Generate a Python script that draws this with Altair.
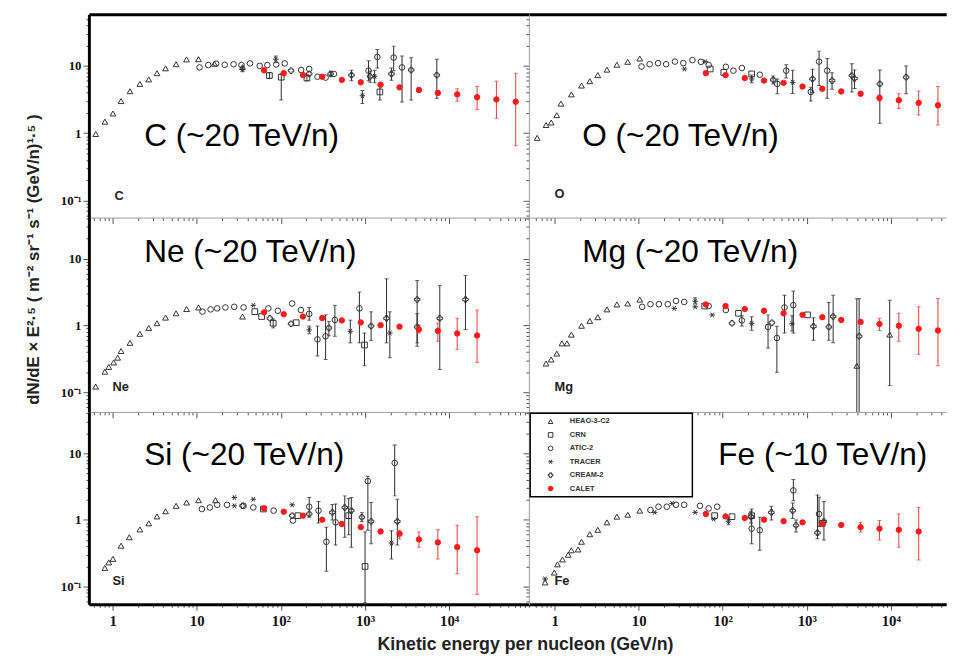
import altair as alt
import pandas as pd

# ---------------- data ----------------
SERIES = ["HEAO-3-C2", "CRN", "ATIC-2", "TRACER", "CREAM-2", "CALET"]

CALET_E = [63, 108, 183, 310, 530, 890, 1530, 2570, 4370, 7330, 12450, 21450, 36400, 61700]

# (E, value[, err_low, err_high])
C_HEAO = [(0.63, 0.97), (0.81, 1.48), (1.01, 1.96), (1.26, 3.0), (1.61, 4.2), (2.11, 5.4), (2.69, 6.3),
          (3.37, 7.8), (4.26, 9.2), (5.68, 10.6), (7.57, 12.5), (10.5, 12.6), (16.2, 10.8), (35, 9.6)]
C_CRN = [(73, 7.2, 6.5, 7.9), (101, 6.8, 3.1, 7.6), (204, 6.6, 6.0, 7.3), (1500, 4.1, 3.1, 5.1)]
C_ATIC = [(10.8, 9.5), (13.7, 10.3), (17, 10.8), (21.5, 10.4), (27.4, 10.6), (34, 10.3), (43, 10.9), (56, 10.0),
          (69, 10.3), (88, 10.5), (111, 10.9), (174, 8.7), (217, 9.0), (272, 6.9), (340, 6.7), (427, 7.6),
          (1100, 8.5, 6.0, 11.9), (1400, 13.6, 9.3, 17.6), (2190, 13.3, 8.5, 19.7), (2750, 9.5, 2.9, 14.0)]
C_TRACER = [(35, 8.9, 8.2, 9.8), (87, 12.6, 11.2, 14.0), (930, 3.6, 2.75, 4.3), (1300, 7.0, 5.6, 8.6)]
C_CREAM = [(132, 8.5), (217, 7.6), (390, 7.6, 7.0, 8.3), (690, 7.3, 6.0, 8.6), (1150, 7.0, 5.7, 8.4),
           (2060, 7.6, 6.1, 9.3), (3530, 8.7, 3.1, 13.2), (7130, 7.3, 3.3, 12.6)]
C_CALET = [8.6, 7.8, 7.3, 6.9, 6.2, 5.7, 5.25, 4.8, 4.4, 3.97, 3.77, 3.43, 3.17, 2.93]
C_CALET_LO = [8.4, 7.6, 7.1, 6.7, 6.0, 5.5, 5.0, 4.55, 4.1, 3.65, 2.98, 2.25, 1.66, 0.65]
C_CALET_HI = [8.8, 8.0, 7.5, 7.1, 6.4, 5.9, 5.5, 5.05, 4.7, 4.3, 4.57, 4.94, 5.93, 7.76]

O_HEAO = [(0.62, 0.85), (0.79, 1.32), (0.91, 1.44), (1.06, 1.85), (1.19, 2.75), (1.58, 3.77), (2.09, 5.1),
          (2.62, 5.93), (3.26, 7.3), (4.19, 8.8), (5.5, 10.4), (7.4, 11.5), (10.3, 12.9)]
O_CRN = [(71, 9.0), (103, 8.0), (221, 7.6)]
O_ATIC = [(10.8, 9.8), (13.5, 10.6), (17, 11.0), (21.2, 10.6), (27, 11.6), (34, 11.0), (43.6, 12.2), (55, 11.5),
          (68, 10.3), (109, 9.7), (134, 8.5), (169, 9.3), (276, 7.4), (446, 5.4, 3.85, 6.4), (569, 8.5, 6.6, 10.4),
          (1117, 4.1, 3.0, 4.8), (1400, 11.6, 5.1, 16.6), (1750, 8.5, 3.3, 12.9)]
O_TRACER = [(35, 9.0), (62, 11.6), (221, 6.4, 5.6, 7.3), (680, 5.7, 3.9, 8.6)]
O_CREAM = [(398, 6.2, 5.4, 7.1), (1170, 6.4, 4.0, 8.9), (2000, 6.05, 4.5, 7.9), (3440, 7.2, 4.1, 10.8),
           (3700, 6.5, 4.6, 8.7), (7400, 5.4, 1.4, 8.7), (15200, 6.8, 3.85, 10.0)]
O_CALET = [7.8, 7.3, 6.6, 6.05, 5.6, 4.94, 4.57, 4.17, 3.86, 3.34, 3.08, 2.82, 2.6, 2.33]
O_CALET_LO = [7.6, 7.1, 6.45, 5.9, 5.45, 4.75, 4.35, 3.95, 3.6, 3.0, 2.33, 1.86, 1.32, 0.91]
O_CALET_HI = [8.0, 7.5, 6.75, 6.2, 5.75, 5.1, 4.8, 4.4, 4.1, 3.7, 3.86, 4.23, 4.94, 6.15]

NE_HEAO = [(0.63, 0.122), (0.81, 0.204), (0.9, 0.24), (1.03, 0.28), (1.15, 0.33), (1.26, 0.415), (1.61, 0.55),
           (2.11, 0.75), (2.69, 0.92), (3.37, 1.08), (4.26, 1.31), (5.68, 1.52), (7.57, 1.76), (10.5, 1.86),
           (35, 1.36)]
NE_CRN = [(49, 1.61), (59, 1.36), (81, 1.08, 0.92, 1.25), (152, 1.1), (985, 0.51, 0.25, 0.77)]
NE_ATIC = [(11.7, 1.61), (14.6, 1.74), (17.5, 1.8), (21.9, 1.86), (27.9, 1.9), (36, 1.86), (71, 1.8), (92, 1.66),
           (136, 2.13), (173, 1.7), (217, 1.49, 1.2, 1.85), (272, 0.62, 0.35, 0.98), (340, 0.69, 0.31, 1.44),
           (438, 1.21, 0.69, 2.0), (857, 1.8, 0.55, 3.16)]
NE_TRACER = [(47, 2.0), (217, 0.86, 0.75, 0.98), (668, 0.82, 0.55, 1.2), (1970, 0.77, 0.33, 1.6)]
NE_CREAM = [(74, 1.28), (132, 1.06), (372, 0.92, 0.7, 1.15), (1180, 0.98, 0.6, 1.6), (1800, 1.28, 0.55, 4.98),
            (4160, 2.44, 0.49, 4.7), (4160, 0.95, 0.55, 1.5), (7730, 1.28, 0.22, 3.97), (15600, 2.44, 0.87, 5.6)]
NE_CALET = [1.57, 1.47, 1.36, 1.29, 1.19, 1.11, 1.01, 0.96, 0.87, 0.83, 0.76, 0.71]
NE_CALET_LO = [1.52, 1.42, 1.31, 1.24, 1.14, 1.06, 0.96, 0.9, 0.77, 0.58, 0.44, 0.28]
NE_CALET_HI = [1.62, 1.52, 1.41, 1.34, 1.24, 1.16, 1.06, 1.02, 1.02, 1.08, 1.28, 1.7]

MG_HEAO = [(0.79, 0.27), (0.91, 0.31), (1.06, 0.38), (1.22, 0.54), (1.4, 0.54), (1.58, 0.73), (2.09, 0.99),
           (2.62, 1.17), (3.26, 1.33), (4.19, 1.74), (5.5, 2.06), (7.4, 2.13), (10.3, 2.44),
           (3940, 0.25, 0.01, 2.5), (9700, 0.73, 0.127, 2.38)]
MG_CRN = [(61, 1.95), (154, 1.52), (1020, 1.44)]
MG_ATIC = [(11, 1.9), (13.8, 2.08), (17.4, 2.08), (22.2, 2.08), (27.8, 2.33), (34.8, 2.25), (68, 1.95), (109, 1.7),
           (169, 1.19, 0.98, 1.4), (346, 0.95, 0.46, 1.44), (441, 0.65, 0.2, 0.97), (543, 1.86, 0.77, 2.83),
           (692, 2.01, 0.77, 3.27)]
MG_TRACER = [(26.5, 1.8), (47, 1.9), (47, 2.3, 2.1, 2.6), (75, 1.44), (221, 1.08, 0.85, 1.35), (668, 1.06, 0.83, 1.4)]
MG_CREAM = [(129, 1.08), (385, 1.1), (1200, 0.97, 0.6, 1.3), (1830, 0.95, 0.6, 2.2), (2060, 1.36, 0.55, 2.83),
            (4200, 0.69, 0.01, 2.5)]
MG_CALET = [2.06, 1.95, 1.76, 1.66, 1.52, 1.44, 1.33, 1.21, 1.13, 1.05, 0.99, 0.89, 0.84]
MG_CALET_LO = [2.0, 1.89, 1.7, 1.6, 1.46, 1.38, 1.27, 1.15, 1.05, 0.84, 0.58, 0.37, 0.25]
MG_CALET_HI = [2.12, 2.01, 1.82, 1.72, 1.58, 1.5, 1.39, 1.27, 1.21, 1.28, 1.52, 1.9, 2.53]

SI_HEAO = [(0.81, 0.19), (0.9, 0.23), (1.01, 0.26), (1.26, 0.41), (1.58, 0.55), (2.11, 0.72), (2.69, 0.89),
           (3.37, 1.13), (4.26, 1.35), (5.68, 1.63), (7.57, 1.83), (10.5, 1.98), (16.7, 1.98)]
SI_CRN = [(62, 1.46), (159, 1.16), (640, 1.16, 0.6, 2.1), (1000, 0.2, 0.057, 0.66)]
SI_ATIC = [(11.5, 1.46), (14.3, 1.54), (17.5, 1.69), (22.9, 1.69), (36, 1.63), (47, 1.54), (82, 1.38), (139, 0.98),
           (217, 1.58, 1.1, 2.17), (280, 1.38, 0.9, 1.9), (347, 0.47, 0.17, 0.78), (447, 0.92, 0.42, 1.73),
           (1080, 3.83, 0.7, 4.54), (2250, 7.2, 2.3, 13.4)]
SI_TRACER = [(28, 2.17), (28, 1.63), (47, 2.05), (136, 1.69), (2060, 0.45, 0.26, 0.69)]
SI_CREAM = [(35, 1.63), (136, 1.16), (217, 1.23), (408, 1.3, 1.0, 1.7), (574, 1.54, 0.55, 2.3),
            (687, 1.38, 0.39, 2.17), (917, 1.1, 0.95, 1.3), (1180, 0.95, 0.44, 1.83), (2420, 0.95, 0.42, 2.05)]
SI_CALET = [1.49, 1.33, 1.16, 1.01, 0.87, 0.78, 0.67, 0.62, 0.51, 0.46, 0.39, 0.35]
SI_CALET_LO = [1.44, 1.28, 1.11, 0.97, 0.83, 0.74, 0.63, 0.52, 0.39, 0.26, 0.155, 0.076]
SI_CALET_HI = [1.54, 1.38, 1.21, 1.05, 0.91, 0.82, 0.71, 0.7, 0.66, 0.71, 0.83, 1.12]

FE_HEAO = [(0.77, 0.115), (0.99, 0.162), (1.08, 0.215), (1.24, 0.255), (1.45, 0.3), (1.58, 0.35), (1.9, 0.36),
           (2.09, 0.47), (2.62, 0.61), (3.26, 0.71), (4.19, 0.92), (5.5, 1.12), (7.4, 1.2), (10.3, 1.38)]
FE_CRN = [(80, 1.16), (129, 1.12), (221, 1.16), (1530, 0.89)]
FE_ATIC = [(13.8, 1.41), (17.2, 1.58), (21.6, 1.58), (27.8, 1.69), (34.8, 1.69), (53.6, 1.63), (68, 1.49), (86, 1.58),
           (221, 0.74, 0.44, 1.46), (276, 0.70, 0.35, 1.1), (692, 2.78, 1.94, 4.05), (1400, 1.23, 0.8, 2.2)]
FE_TRACER = [(0.77, 0.13), (15.5, 1.3), (25, 1.77), (47, 1.3), (78, 1.03), (117, 0.96, 0.85, 1.1)]
FE_CREAM = [(217, 1.12, 0.9, 1.35), (379, 1.3, 1.0, 1.6), (680, 1.38, 1.05, 1.8), (745, 0.83, 0.66, 1.0),
            (1340, 0.64, 0.52, 2.38), (1600, 0.95, 0.5, 1.9)]
FE_CALET = [1.23, 1.13, 1.07, 1.01, 0.96, 0.92, 0.87, 0.84, 0.78, 0.74, 0.71, 0.67]
FE_CALET_LO = [1.19, 1.09, 1.03, 0.97, 0.92, 0.88, 0.83, 0.79, 0.66, 0.5, 0.39, 0.25]
FE_CALET_HI = [1.27, 1.17, 1.11, 1.05, 1.0, 0.96, 0.91, 0.89, 0.92, 0.98, 1.23, 1.54]

ANNOTATIONS = ["C (~20 TeV/n)", "O (~20 TeV/n)", "Ne (~20 TeV/n)", "Mg (~20 TeV/n)", "Si (~20 TeV/n)", "Fe (~10 TeV/n)"]
ELEMENTS = ["C", "O", "Ne", "Mg", "Si", "Fe"]

# ---------------- styling / layout ----------------
ASTERISK = "M-1,0L1,0M-0.55,-0.85L0.55,0.85M-0.55,0.85L0.55,-0.85"
SHAPES = ["triangle-up", "square", "circle", ASTERISK, "cross", "circle"]
STROKES = ["#333333", "#333333", "#333333", "#333333", "#333333", "#ff1a1a"]
FILLS = ["transparent", "transparent", "transparent", "transparent", "transparent", "#ff1a1a"]
SIZES = [34, 30, 32, 34, 40, 46]

WIDTHS = [446, 423]
HEIGHTS = [206, 197, 195]
XDOM = [[0.523, 88500], [0.494, 45600]]
YDOM = [[0.0554, 58.5], [0.051, 41], [0.054, 42]]
BIG_POS = [(56, 123), (54, 123), (56, 35), (54, 35), (56, 44), (192, 44)]
SMALL_POS = [(26, 184), (26, 182), (24, 172), (26, 172), (24, 171), (26, 171)]
LEGEND_PANEL = 5
LEGEND_BOX = (1.3, 165.7, 1.3, 86)     # x, x2, y, y2 inside the Fe panel
LEGEND_ROWS = [9.7, 77.7]              # first / last entry centre
LEGEND_SYM_X = 22
LEGEND_TXT_X = 41.5

XT = [k * 10.0 ** p for p in range(-1, 5) for k in range(1, 10)]
YT = [k * 10.0 ** p for p in range(-2, 2) for k in range(1, 10)]
MAJOR = "indexof([0.1, 1, 10, 100, 1000, 10000], datum.value) >= 0"
TICKSIZE = {"condition": {"test": MAJOR, "value": 6}, "value": 3}
XLAB = ("datum.value == 1 ? '1' : datum.value == 10 ? '10' : datum.value == 100 ? '10\u00b2' : "
        "datum.value == 1000 ? '10\u00b3' : datum.value == 10000 ? '10\u2074' : ''")
YLAB = "datum.value == 0.1 ? '10\u207b\u00b9' : datum.value == 1 ? '1' : datum.value == 10 ? '10' : ''"
XTITLE = "Kinetic energy per nucleon (GeV/n)"
YTITLE = "dN/dE \u00d7 E\u00b2\u00b7\u2075  ( m\u207b\u00b2  sr\u207b\u00b9  s\u207b\u00b9  (GeV/n)\u00b9\u00b7\u2075 )"


def make_df(lists, cy, clo, chi):
    rows = []
    for name, pts in zip(SERIES[:5], lists):
        for p in pts:
            rows.append({"series": name, "E": p[0], "y": p[1],
                         "lo": p[2] if len(p) > 2 else None, "hi": p[3] if len(p) > 3 else None})
    for e, y, lo, hi in zip(CALET_E, cy, clo, chi):
        rows.append({"series": "CALET", "E": e, "y": y, "lo": lo, "hi": hi})
    return pd.DataFrame(rows)


def x_axis(col, row):
    lo, hi = XDOM[col]
    d = dict(values=[v for v in XT if lo <= v <= hi], grid=False, tickColor="#555", tickSize=TICKSIZE,
             domainColor="#000000" if row == 2 else "#9a9a9a", domainWidth=3 if row == 2 else 1)
    if row == 2:
        d.update(labelExpr=XLAB, labelFont="Liberation Serif", labelFontWeight="bold", labelFontSize=15,
                 labelColor="#111", labelPadding=3, labelOverlap=False, labelFlush=False)
    else:
        d.update(labels=False)
    if row == 2 and col == 0:
        d.update(title=XTITLE, titleFont="Liberation Sans", titleFontWeight="bold", titleFontSize=18,
                 titleColor="#222", titleX=442, titleY=41, titleBaseline="middle", titleAlign="center")
    else:
        d.update(title=None)
    return alt.Axis(**d)


def y_axis(col, row):
    lo, hi = YDOM[row]
    d = dict(values=[v for v in YT if lo <= v <= hi], grid=False, tickColor="#555", tickSize=TICKSIZE,
             domainColor="#000000" if col == 0 else "#9a9a9a", domainWidth=3 if col == 0 else 1)
    if col == 0:
        d.update(labelExpr=YLAB, labelFont="Liberation Serif", labelFontWeight="bold", labelFontSize=13,
                 labelColor="#111", labelPadding=2, labelOverlap=False, labelFlush=False)
    else:
        d.update(labels=False)
    if col == 0 and row == 1:
        d.update(title=YTITLE, titleFont="Liberation Sans", titleFontWeight="bold", titleFontSize=17,
                 titleColor="#222", titleX=-56, titleY=42, titleBaseline="middle", titleAlign="center",
                 titleAngle=270)
    else:
        d.update(title=None)
    return alt.Axis(**d)


def series_enc():
    return dict(
        shape=alt.Shape("series:N", scale=alt.Scale(domain=SERIES, range=SHAPES), legend=None),
        fill=alt.Fill("series:N", scale=alt.Scale(domain=SERIES, range=FILLS), legend=None),
        stroke=alt.Stroke("series:N", scale=alt.Scale(domain=SERIES, range=STROKES), legend=None),
    )


def legend_layers():
    ly = alt.Y("series:N", scale=alt.Scale(type="point", domain=SERIES, range=LEGEND_ROWS, padding=0),
               axis=None, sort=SERIES)
    lx0, lx1, ly0, ly1 = LEGEND_BOX
    box = alt.Chart(pd.DataFrame({"k": [0]})).mark_rect(
        fill="white", stroke="black", strokeWidth=1.5
    ).encode(x=alt.value(lx0), x2=alt.value(lx1), y=alt.value(ly0), y2=alt.value(ly1))
    ldf = pd.DataFrame({"series": SERIES})
    syms = alt.Chart(ldf).mark_point(size=22, strokeWidth=1, opacity=1).encode(
        x=alt.value(LEGEND_SYM_X), y=ly, **series_enc())
    labs = alt.Chart(ldf).mark_text(
        align="left", baseline="middle", font="Liberation Sans", fontSize=7.5, fontWeight="bold", color="#333"
    ).encode(x=alt.value(LEGEND_TXT_X), y=ly, text="series:N")
    return alt.layer(box, syms, labs)


def panel(i, df):
    row, col = divmod(i, 2)
    xs = alt.Scale(type="log", domain=XDOM[col], nice=False)
    ys = alt.Scale(type="log", domain=YDOM[row], nice=False)
    xa, ya = x_axis(col, row), y_axis(col, row)

    def X(f):
        return alt.X(f, type="quantitative", scale=xs, axis=xa)

    def Y(f):
        return alt.Y(f, type="quantitative", scale=ys, axis=ya)

    ecol = alt.condition("datum.series == 'CALET'", alt.value("#f03a3a"), alt.value("#2a2a2a"))
    base = alt.Chart().transform_filter("isValid(datum.lo) && isValid(datum.hi)")
    err = base.mark_rule(strokeWidth=1, clip=True).encode(x=X("E"), y=Y("lo"), y2="hi", stroke=ecol)
    cap_lo = base.mark_tick(orient="horizontal", size=4, thickness=1, clip=True).encode(
        x=X("E"), y=Y("lo"), color=ecol)
    cap_hi = base.mark_tick(orient="horizontal", size=4, thickness=1, clip=True).encode(
        x=X("E"), y=Y("hi"), color=ecol)
    pts = alt.Chart().mark_point(strokeWidth=1, opacity=1, clip=True).encode(
        x=X("E"), y=Y("y"),
        size=alt.Size("series:N", scale=alt.Scale(domain=SERIES, range=SIZES), legend=None),
        **series_enc()
    )
    bx, by = BIG_POS[i]
    sx, sy = SMALL_POS[i]
    big = alt.Chart(pd.DataFrame({"t": [ANNOTATIONS[i]]})).mark_text(
        align="left", baseline="middle", font="Liberation Sans", fontSize=32, color="black"
    ).encode(x=alt.value(bx), y=alt.value(by), text="t:N")
    small = alt.Chart(pd.DataFrame({"t": [ELEMENTS[i]]})).mark_text(
        align="left", baseline="middle", font="Liberation Sans", fontSize=13, fontWeight="bold", color="#222"
    ).encode(x=alt.value(sx), y=alt.value(sy), text="t:N")
    inner = alt.layer(err, cap_lo, cap_hi, pts, big, small, data=df)
    if row == 0:
        frame = alt.Chart(df).mark_point(opacity=0).encode(
            x=alt.X("E", type="quantitative", scale=xs,
                    axis=alt.Axis(orient="top", ticks=False, labels=False, grid=False,
                                  domainColor="#000000", domainWidth=3, title=None)))
        out = alt.layer(inner, frame).resolve_axis(x="independent")
    elif i == LEGEND_PANEL:
        out = alt.layer(inner, legend_layers()).resolve_scale(y="independent")
    else:
        out = inner
    return out.properties(width=WIDTHS[col], height=HEIGHTS[row])


DFS = [
    make_df([C_HEAO, C_CRN, C_ATIC, C_TRACER, C_CREAM], C_CALET, C_CALET_LO, C_CALET_HI),
    make_df([O_HEAO, O_CRN, O_ATIC, O_TRACER, O_CREAM], O_CALET, O_CALET_LO, O_CALET_HI),
    make_df([NE_HEAO, NE_CRN, NE_ATIC, NE_TRACER, NE_CREAM], NE_CALET, NE_CALET_LO, NE_CALET_HI),
    make_df([MG_HEAO, MG_CRN, MG_ATIC, MG_TRACER, MG_CREAM], MG_CALET, MG_CALET_LO, MG_CALET_HI),
    make_df([SI_HEAO, SI_CRN, SI_ATIC, SI_TRACER, SI_CREAM], SI_CALET, SI_CALET_LO, SI_CALET_HI),
    make_df([FE_HEAO, FE_CRN, FE_ATIC, FE_TRACER, FE_CREAM], FE_CALET, FE_CALET_LO, FE_CALET_HI),
]

chart = alt.concat(*[panel(i, d) for i, d in enumerate(DFS)], columns=2, spacing=0,
                   bounds="flush", align="each").properties(
    padding={"left": 16, "top": 0, "right": 0, "bottom": 0}
).configure_view(stroke="transparent")

chart.save("out.html", embed_options={"renderer": "svg", "actions": False})
